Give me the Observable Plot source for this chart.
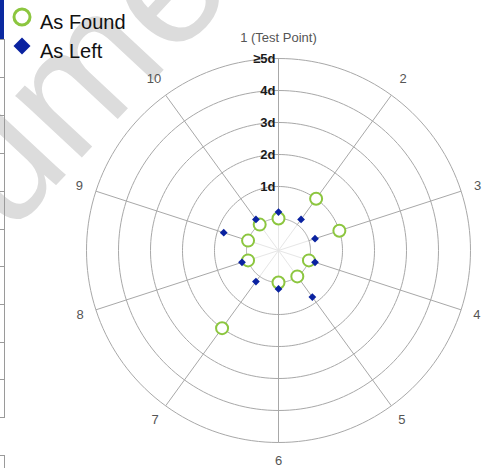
<!DOCTYPE html>
<html>
<head>
<meta charset="utf-8">
<script src="https://cdn.jsdelivr.net/npm/d3@7"></script>
<script src="https://cdn.jsdelivr.net/npm/@observablehq/plot@0.6"></script>
<style>
  body { margin: 0; background: white; font-family: "Liberation Sans", Arial, sans-serif; }
  #wrap { position: relative; width: 488px; height: 468px; overflow: hidden; }
  #wm, #deco { position: absolute; left: 0; top: 0; }
  #chart { position: absolute; left: 0; top: 0; }
  #legend { position: absolute; left: 0; top: 0; }
</style>
</head>
<body>
<div id="wrap">
  <svg id="wm" width="488" height="468">
    <text x="-200" y="460" transform="rotate(-47 -200 460)" font-size="172" fill="#dcdcdc" font-family="Liberation Sans, Arial, sans-serif">Document</text>
  </svg>
  <svg id="deco" width="488" height="468"></svg>
  <div id="chart"></div>
  <svg id="legend" width="150" height="65"></svg>
</div>
<script>
// ---- data ----
const axisLabels = ["1 (Test Point)", "2", "3", "4", "5", "6", "7", "8", "9", "10"];
const asFound = [0, 1, 1, 0, 0, 0, 2, 0, 0, 0];
const asLeft = [0.2, 0.2, 0.2, 0.2, 0.8, 0.2, 0.2, 0.2, 0.8, 0.2];
const ringLabels = ["1d", "2d", "3d", "4d", "\u22655d"];
const ringValues = [0, 1, 2, 3, 4, 5];
const seriesNames = ["As Found", "As Left"];

// ---- geometry helpers (radial value -> data units) ----
const hole = 1;                       // value 0 sits on the inner ring
const rad = v => hole + v;
const ang = i => (i * 2 * Math.PI) / axisLabels.length;
const px = (v, i) => rad(v) * Math.sin(ang(i));
const py = (v, i) => rad(v) * Math.cos(ang(i));
const maxV = ringValues[ringValues.length - 1];
const labelR = i => {
  const c = Math.cos(ang(i));
  return 6.5 + (c > 0 ? 0.15 * c : 0.07 * -c);
};

const ringPts = [];
for (const v of ringValues) {
  for (let k = 0; k <= 360; k += 2) {
    const a = k * Math.PI / 180;
    ringPts.push({ v, x: rad(v) * Math.sin(a), y: rad(v) * Math.cos(a) });
  }
}
const idx = axisLabels.map((d, i) => i);

const green = "#8cc63f";
const blue = "#0a22a0";
const grid = "#a8a8a8";

const chart = Plot.plot({
  width: 488,
  height: 468,
  margin: 0,
  style: { background: "transparent", fontFamily: "Liberation Sans, Arial, sans-serif" },
  x: { domain: [-8.6875, 6.5625], axis: null },
  y: { domain: [-6.8125, 7.8125], axis: null },
  marks: [
    // faint inner spokes
    Plot.link(idx, { x1: () => 0, y1: () => 0, x2: i => px(0, i), y2: i => py(0, i), stroke: "#e6e6e6", strokeWidth: 1 }),
    // spokes
    Plot.link(idx, { x1: i => px(0, i), y1: i => py(0, i), x2: i => px(maxV, i), y2: i => py(maxV, i), stroke: grid, strokeWidth: 1 }),
    // rings
    Plot.line(ringPts, { x: "x", y: "y", z: "v", stroke: grid, strokeWidth: 1 }),
    // ring labels
    Plot.text(ringLabels, { x: () => 0, y: (d, i) => rad(i + 1), text: d => d, textAnchor: "end", dx: -3, fontSize: 13, fontWeight: "bold", fill: "#1a1a1a" }),
    // axis labels
    Plot.text(axisLabels, {
      x: (d, i) => labelR(i) * Math.sin(ang(i)),
      y: (d, i) => labelR(i) * Math.cos(ang(i)),
      text: d => d, fontSize: 13, fill: "#555"
    }),
    // As Found
    Plot.dot(asFound, { x: (v, i) => px(v, i), y: (v, i) => py(v, i), r: 6, stroke: green, strokeWidth: 2, fill: "white" }),
    // As Left
    Plot.dot(asLeft, { x: (v, i) => px(v, i), y: (v, i) => py(v, i), r: 3.5, symbol: "diamond2", fill: blue })
  ]
});
document.getElementById("chart").appendChild(chart);

// ---- legend ----
const lg = d3.select("#legend");
lg.append("circle").attr("cx", 22).attr("cy", 17).attr("r", 8).attr("fill", "white").attr("stroke", green).attr("stroke-width", 3);
lg.append("path").attr("d", "M22,37.5 L30.5,46 L22,54.5 L13.5,46 Z").attr("fill", blue);
lg.selectAll("text.l").data(seriesNames).join("text")
  .attr("x", 40).attr("y", (d, i) => 29 + i * 28.5)
  .attr("font-size", 20).attr("font-family", "Liberation Sans, Arial, sans-serif").attr("fill", "#111")
  .text(d => d);

// ---- neighbouring table edge (decoration) ----
const deco = d3.select("#deco");
deco.append("rect").attr("x", 0).attr("y", 0).attr("width", 4).attr("height", 39).attr("fill", "#0b2aa0");
deco.append("line").attr("x1", 4.5).attr("x2", 4.5).attr("y1", 39).attr("y2", 417).attr("stroke", "#9a9a9a");
const rows = [39, 77, 115, 153, 191, 229, 266, 304, 342, 379, 417];
deco.selectAll("line.r").data(rows).join("line").attr("class", "r")
  .attr("x1", 0).attr("x2", 5).attr("y1", d => d + 0.5).attr("y2", d => d + 0.5).attr("stroke", "#9a9a9a");
deco.append("line").attr("x1", 0).attr("x2", 5).attr("y1", 455.5).attr("y2", 455.5).attr("stroke", "#9a9a9a");
deco.append("line").attr("x1", 4.5).attr("x2", 4.5).attr("y1", 455).attr("y2", 468).attr("stroke", "#9a9a9a");
</script>
</body>
</html>
